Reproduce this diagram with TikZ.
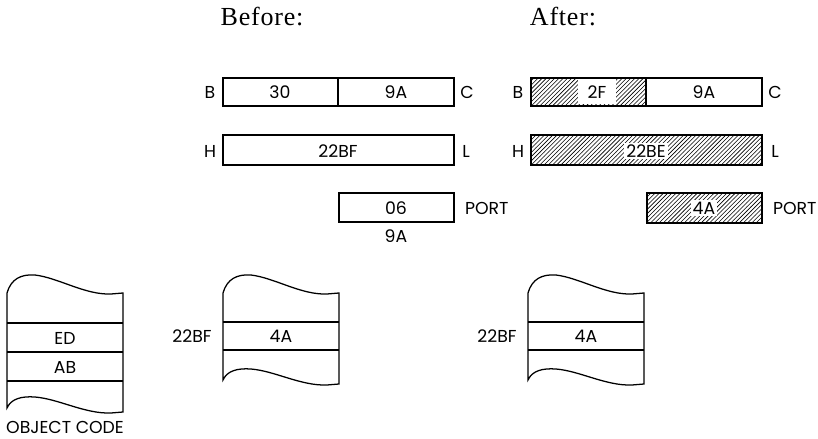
\documentclass[tikz,border=0pt]{standalone}
\usepackage{fontspec}
\newfontfamily\labelfont{Poppins}
\newfontfamily\titlefont[LetterSpace=3]{Liberation Serif}
\usetikzlibrary{patterns}

\begin{document}
\begin{tikzpicture}[x=0.025cm, y=-0.025cm, line width=0.9pt,
    lbl/.style={font=\labelfont\fontsize{12.3}{14}\selectfont, inner sep=1pt},
    ttl/.style={font=\titlefont\fontsize{18.5}{22}\selectfont},
    hatch/.style={pattern=north east lines},
    gap/.style={lbl, fill=white, inner sep=1.5pt}]
        \useasboundingbox (0,0) rectangle (818,439);
        % 見出し
        \node[ttl] (tBefore) at (262,17) {Before:};
        \node[ttl] (tAfter) at (563,17) {After:};
        % Before: レジスタ
        \draw (223,78) rectangle (338,106);
        \draw (338,78) rectangle (454,106);
        \node[lbl] (regB) at (280,92) {30};
        \node[lbl] (regC) at (396,92) {9A};
        \node[lbl] at (210,92) {B};
        \node[lbl] at (467,92) {C};
        \draw (223,135) rectangle (454,165);
        \node[lbl] (regHL) at (338,151) {22BF};
        \node[lbl] at (210,151) {H};
        \node[lbl] at (466,151) {L};
        \draw (339,193) rectangle (454,222);
        \node[lbl] (port) at (396,208) {06};
        \node[lbl, anchor=west] at (463,208) {PORT};
        \node[lbl] at (396,236) {9A};
        % After: レジスタ（斜線）
        \draw[hatch] (531,78) rectangle (646,106);
        \fill[white] (578,79.5) rectangle (616,104.5);
        \draw (646,78) rectangle (762,106);
        \node[lbl] (regB2) at (597,92) {2F};
        \node[lbl] (regC2) at (704,92) {9A};
        \node[lbl] at (518,92) {B};
        \node[lbl] at (775,92) {C};
        \draw[hatch] (531,135) rectangle (762,165);
        \node[gap] (regHL2) at (646,151) {22BE};
        \node[lbl] at (518,151) {H};
        \node[lbl] at (775,151) {L};
        \draw[hatch] (647,193) rectangle (762,223);
        \node[gap] (port2) at (704,208) {4A};
        \node[lbl, anchor=west] at (771,208) {PORT};
        % メモリ（波形の切れ目）
        \foreach \x/\b in {7/408, 223/380, 528/380} {
          \begin{scope}[shift={(\x,0)}]
            \draw (0,\b) -- (0,293)
              .. controls (4,279) and (14,274) .. (28,275)
              .. controls (52,278) and (78,295) .. (104,294) -- (116,293)
              -- (116,\b+4) -- (104,\b+5)
              .. controls (78,\b+6) and (52,\b-9) .. (28,\b-11)
              .. controls (14,\b-12) and (4,\b-9) .. cycle;
          \end{scope}
        }
        % オブジェクトコード
        \draw (7,323) -- (123,323);
        \draw (7,352) -- (123,352);
        \draw (7,381) -- (123,381);
        \node[lbl] (ed) at (65,338) {ED};
        \node[lbl] (ab) at (65,367) {AB};
        \node[lbl] at (65,427) {OBJECT CODE};
        % メモリ 22BF
        \draw (223,322) -- (339,322);
        \draw (223,350) -- (339,350);
        \node[lbl] (mem) at (281,336) {4A};
        \node[lbl] at (192,336) {22BF};
        \draw (528,322) -- (644,322);
        \draw (528,350) -- (644,350);
        \node[lbl] (mem2) at (586,336) {4A};
        \node[lbl] at (497,336) {22BF};
      \end{tikzpicture}
\end{document}
